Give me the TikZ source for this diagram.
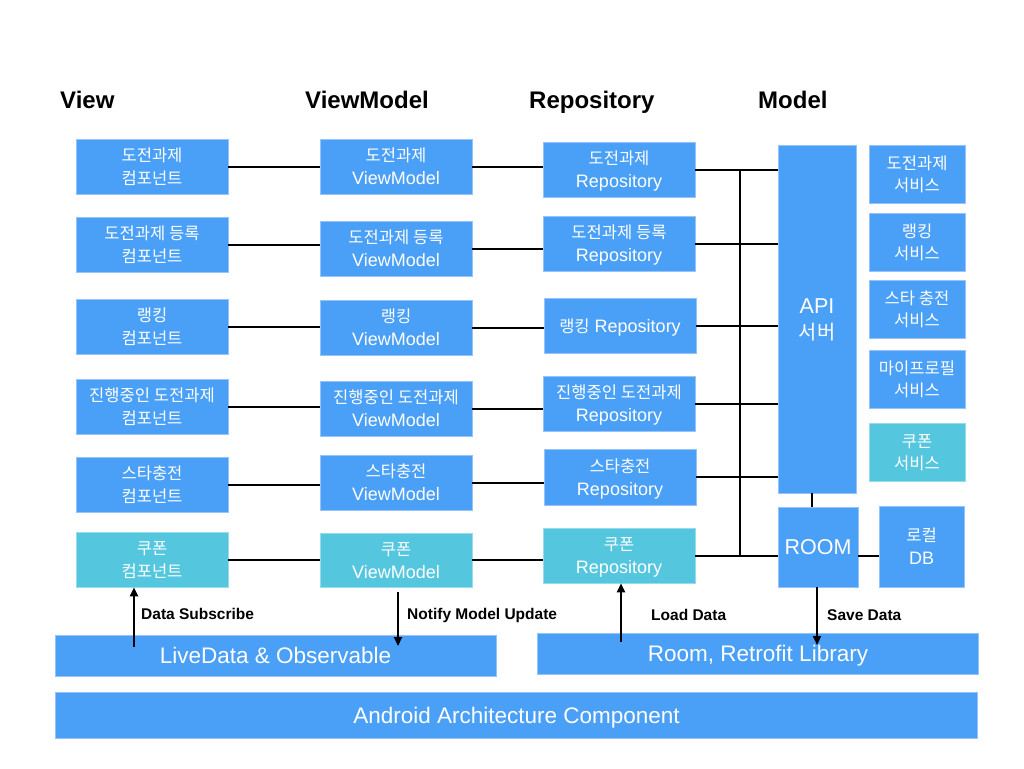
\documentclass[tikz,border=0pt]{standalone}
\usepackage{fontspec}
\setmainfont{Liberation Sans}
\newfontfamily\kofont[Scale=0.92]{Noto Sans CJK KR}
\newcommand\kr[1]{{\kofont #1}}
\usetikzlibrary{arrows.meta}
\definecolor{bbox}{RGB}{74,159,246}
\definecolor{cbox}{RGB}{84,199,222}
\definecolor{bedge}{RGB}{150,196,250}
\definecolor{cedge}{RGB}{150,220,236}
\begin{document}
\begin{tikzpicture}[x=1pt,y=-1pt,
  box/.style={fill=bbox, draw=bedge, line width=0.6pt, text=white, align=center, inner sep=0pt,
              font=\fontsize{18}{23}\selectfont, text depth=0pt},
  cyanbox/.style={box, fill=cbox, draw=cedge},
  sz/.style 2 args={minimum width=#1pt, minimum height=#2pt},
  wire/.style={line width=2pt, black},
  arr/.style={line width=2pt, black, -{Triangle[length=9pt,width=8pt]}},
  hdr/.style={anchor=base west, inner sep=0pt, font=\fontsize{24}{28}\bfseries\selectfont},
  lbl/.style={anchor=base west, inner sep=0pt, font=\fontsize{15.5}{18}\bfseries\selectfont},
  bar/.style={box, font=\fontsize{22.5}{26}\selectfont}]
\useasboundingbox[fill=white] (0,0) rectangle (1024,768);

% headers
\node[hdr] (hv) at (60,108) {View};
\node[hdr] (hm) at (305,108) {ViewModel};
\node[hdr] (hr) at (529,108) {Repository};
\node[hdr] (hmo) at (758,108) {Model};

% View column
\node[box, sz={152}{55}] (v1) at (152,166.5) {\kr{도전과제}\\\kr{컴포넌트}};
\node[box, sz={152}{55}] (v2) at (152,244.5) {\kr{도전과제 등록}\\\kr{컴포넌트}};
\node[box, sz={152}{55}] (v3) at (152,326.5) {\kr{랭킹}\\\kr{컴포넌트}};
\node[box, sz={152}{55}] (v4) at (152,406.5) {\kr{진행중인 도전과제}\\\kr{컴포넌트}};
\node[box, sz={152}{55}] (v5) at (152,484.5) {\kr{스타충전}\\\kr{컴포넌트}};
\node[cyanbox, sz={152}{55}] (v6) at (152,559.5) {\kr{쿠폰}\\\kr{컴포넌트}};

% ViewModel column
\node[box, sz={152}{55}] (m1) at (396,166.5) {\kr{도전과제}\\ViewModel};
\node[box, sz={152}{55}] (m2) at (396,248.5) {\kr{도전과제 등록}\\ViewModel};
\node[box, sz={152}{55}] (m3) at (396,327.5) {\kr{랭킹}\\ViewModel};
\node[box, sz={152}{55}] (m4) at (396,408.5) {\kr{진행중인 도전과제}\\ViewModel};
\node[box, sz={152}{55}] (m5) at (396,482.5) {\kr{스타충전}\\ViewModel};
\node[cyanbox, sz={152}{54}] (m6) at (396,560) {\kr{쿠폰}\\ViewModel};

% Repository column
\node[box, sz={152}{55}] (r1) at (619,169.5) {\kr{도전과제}\\Repository};
\node[box, sz={152}{55}] (r2) at (619,243.5) {\kr{도전과제 등록}\\Repository};
\node[box, sz={152}{55}] (r3) at (620,325.5) {\kr{랭킹} Repository};
\node[box, sz={152}{55}] (r4) at (619,403.5) {\kr{진행중인 도전과제}\\Repository};
\node[box, sz={152}{56}] (r5) at (620,477) {\kr{스타충전}\\Repository};
\node[cyanbox, sz={152}{55}] (r6) at (619,555.5) {\kr{쿠폰}\\Repository};

% Model column
\node[box, sz={78}{348}, font=\fontsize{21.5}{26}\selectfont] (api) at (817,319) {API\\\kr{서버}};
\node[box, sz={80}{80}, font=\fontsize{21.5}{26}\selectfont] (room) at (818,547) {ROOM};
\node[box, sz={85}{81}] (db) at (921.5,546.5) {\kr{로컬}\\DB};

\node[box, sz={96}{58}, font=\fontsize{18}{22}\selectfont] (s1) at (917,174) {\kr{도전과제}\\\kr{서비스}};
\node[box, sz={96}{58}, font=\fontsize{18}{22}\selectfont] (s2) at (917,242) {\kr{랭킹}\\\kr{서비스}};
\node[box, sz={96}{58}, font=\fontsize{18}{22}\selectfont] (s3) at (917,309) {\kr{스타 충전}\\\kr{서비스}};
\node[box, sz={96}{58}, font=\fontsize{18}{22}\selectfont] (s4) at (917,379) {\kr{마이프로필}\\\kr{서비스}};
\node[cyanbox, sz={96}{58}, font=\fontsize{18}{22}\selectfont] (s5) at (917,452) {\kr{쿠폰}\\\kr{서비스}};

% bottom bars
\node[bar, sz={441}{41}] (live) at (275.5,655.5) {LiveData \& Observable};
\node[bar, sz={441}{41}] (lib) at (758,653.5) {Room, Retrofit Library};
\node[bar, sz={922}{46}] (aac) at (516.5,715) {Android Architecture Component};

% View -- ViewModel -- Repository
\foreach \i in {1,...,6} {
  \draw[wire] (v\i.east) -- (v\i.east -| m\i.west);
  \draw[wire] (m\i.east) -- (m\i.east -| r\i.west);
}
% Repository -- API
\foreach \i in {1,...,5} {
  \draw[wire] (r\i.east) -- (r\i.east -| api.west);
}
\draw[wire] (r6.east) -- (r6.east -| room.west);
\coordinate (bus) at (740,0);
\draw[wire] (bus |- r1.east) -- (bus |- r6.east);
\coordinate (ar) at (812,0);
\draw[wire] (ar |- api.south) -- (ar |- room.north);
\draw[wire] (r6.east -| room.east) -- (r6.east -| db.west);

% arrows
\coordinate (dsA) at (134,647);
\draw[arr] (dsA) -- (dsA |- v6.south);
\node[lbl] (dsl) at (141,619) {Data Subscribe};

\coordinate (nmA) at (398,592);
\coordinate (nmB) at (398,646);
\draw[arr] (nmA) -- (nmB);
\node[lbl] (nml) at (407,619) {Notify Model Update};

\coordinate (ldA) at (621,642);
\draw[arr] (ldA) -- (ldA |- r6.south);
\node[lbl] (ldl) at (651,620) {Load Data};

\coordinate (sdB) at (817,645);
\draw[arr] (sdB |- room.south) -- (sdB);
\node[lbl] (sdl) at (827,620) {Save Data};
\end{tikzpicture}
\end{document}
